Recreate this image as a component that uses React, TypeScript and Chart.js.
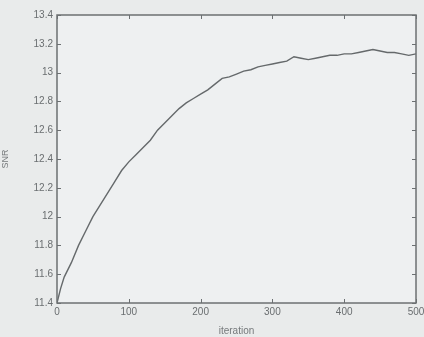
import React, { useEffect, useRef } from "react";
import { Chart, registerables } from "chart.js";

Chart.register(...registerables);

const iterations = [0, 5, 10, 20, 30, 40, 50, 60, 70, 80, 90, 100, 110, 120, 130, 140, 150, 160, 170, 180, 190, 200, 210, 220, 230, 240, 250, 260, 270, 280, 290, 300, 310, 320, 330, 340, 350, 360, 370, 380, 390, 400, 410, 420, 430, 440, 450, 460, 470, 480, 490, 500];
const snr = [11.4, 11.5, 11.58, 11.68, 11.8, 11.9, 12.0, 12.08, 12.16, 12.24, 12.32, 12.38, 12.43, 12.48, 12.53, 12.6, 12.65, 12.7, 12.75, 12.79, 12.82, 12.85, 12.88, 12.92, 12.96, 12.97, 12.99, 13.01, 13.02, 13.04, 13.05, 13.06, 13.07, 13.08, 13.11, 13.1, 13.09, 13.1, 13.11, 13.12, 13.12, 13.13, 13.13, 13.14, 13.15, 13.16, 13.15, 13.14, 13.14, 13.13, 13.12, 13.13];
const xTicks = [0, 100, 200, 300, 400, 500];
const yTicks = [11.4, 11.6, 11.8, 12, 12.2, 12.4, 12.6, 12.8, 13, 13.2, 13.4];

const frame = {
  id: "frame",
  beforeDraw(chart: any) {
    const { ctx, chartArea: a } = chart;
    ctx.save();
    ctx.fillStyle = "#eef0f1";
    ctx.fillRect(a.left, a.top, a.right - a.left, a.bottom - a.top);
    ctx.restore();
  },
  afterDraw(chart: any) {
    const { ctx, chartArea: a, scales } = chart;
    ctx.save();
    ctx.strokeStyle = "#6c7072";
    ctx.lineWidth = 1.5;
    ctx.strokeRect(a.left, a.top, a.right - a.left, a.bottom - a.top);
    const L = 4;
    ctx.lineWidth = 1;
    ctx.beginPath();
    for (const v of xTicks) {
      const x = Math.round(scales.x.getPixelForValue(v)) + 0.5;
      ctx.moveTo(x, a.bottom);
      ctx.lineTo(x, a.bottom - L);
      ctx.moveTo(x, a.top);
      ctx.lineTo(x, a.top + L);
    }
    for (const v of yTicks) {
      const y = Math.round(scales.y.getPixelForValue(v)) + 0.5;
      ctx.moveTo(a.left, y);
      ctx.lineTo(a.left + L, y);
      ctx.moveTo(a.right, y);
      ctx.lineTo(a.right - L, y);
    }
    ctx.stroke();
    ctx.restore();
  },
};

export default function App() {
  const ref = useRef<HTMLCanvasElement>(null);
  useEffect(() => {
    document.body.style.margin = "0";
    document.body.style.background = "#e9ebeb";
    const chart = new Chart(ref.current!, {
      type: "line",
      data: {
        datasets: [
          {
            data: iterations.map((x, i) => ({ x, y: snr[i] })),
            borderColor: "#65696b",
            borderWidth: 1.4,
            pointRadius: 0,
            tension: 0,
          },
        ],
      },
      options: {
        animation: false,
        responsive: false,
        layout: { padding: { left: 0, right: 8, top: 15, bottom: 0 } },
        plugins: { legend: { display: false }, tooltip: { enabled: false } },
        scales: {
          x: {
            type: "linear",
            min: 0,
            max: 500,
            afterBuildTicks: (s: any) => {
              s.ticks = xTicks.map((v) => ({ value: v }));
            },
            afterFit: (s: any) => {
              s.height = 34;
              s.paddingLeft = 0;
              s.paddingRight = 0;
            },
            grid: { display: false, drawTicks: false },
            border: { display: false },
            ticks: { color: "#6a6e70", font: { family: "Liberation Sans", size: 10 }, padding: 3, maxRotation: 0 },
            title: { display: true, text: "iteration", color: "#75797b", font: { family: "Liberation Sans", size: 10 }, padding: { top: -2, bottom: 0 } },
          },
          y: {
            type: "linear",
            min: 11.4,
            max: 13.4,
            afterBuildTicks: (s: any) => {
              s.ticks = yTicks.map((v) => ({ value: v }));
            },
            afterFit: (s: any) => {
              s.width = 57;
              s.paddingTop = 0;
              s.paddingBottom = 0;
            },
            grid: { display: false, drawTicks: false },
            border: { display: false },
            ticks: {
              color: "#6a6e70",
              font: { family: "Liberation Sans", size: 10 },
              padding: 4,
              callback: (v: any) => String(Number(Number(v).toFixed(1))),
            },
            title: { display: true, text: "SNR", color: "#75797b", font: { family: "Liberation Sans", size: 9 }, padding: { top: 0, bottom: 4 } },
          },
        },
      },
      plugins: [frame],
    });
    return () => chart.destroy();
  }, []);
  return (
    <div style={{ width: 424, height: 337 }}>
      <canvas ref={ref} width={424} height={337} />
    </div>
  );
}
